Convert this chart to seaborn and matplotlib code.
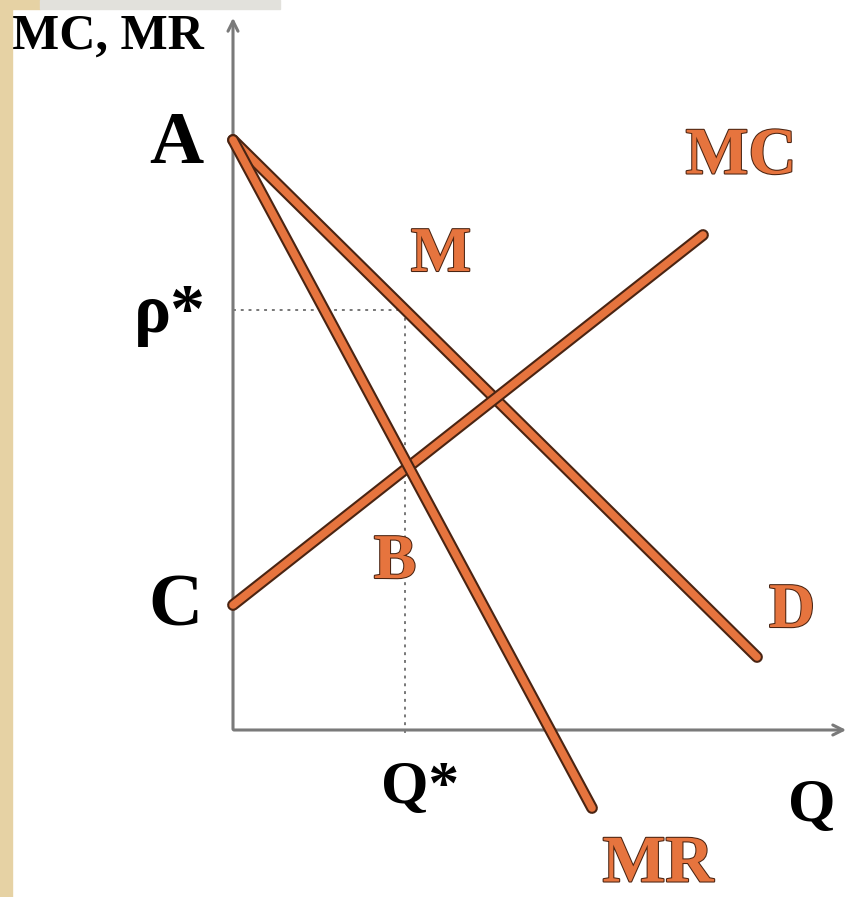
import pandas as pd
import seaborn as sns
import matplotlib.pyplot as plt
import matplotlib.patheffects as pe
from matplotlib.patches import Rectangle

# 曲线端点 (Q, 价格)
curve_names = ["D", "MR", "MC"]
curve_q = [[0.0, 5.24], [0.0, 3.59], [0.0, 4.70]]
curve_p = [[5.90, 0.73], [5.90, -0.78], [1.25, 4.95]]

# 均衡点
q_star = 1.72
p_star = 4.20

ORANGE = "#E6743E"
DARK = "#4a2412"

rows = []
for name, qs, ps in zip(curve_names, curve_q, curve_p):
    for q, p in zip(qs, ps):
        rows.append({"curve": name, "Q": q, "P": p})
df = pd.DataFrame(rows)

sns.set_theme(style="white")
plt.rcParams['font.family'] = ['Liberation Serif', 'DejaVu Serif']

fig = plt.figure(figsize=(8.52, 8.97), dpi=100)
ax = fig.add_axes([0, 0, 1, 1])
ax.set_xlim(-2.33, 6.19)
ax.set_ylim(-1.67, 7.30)
ax.axis("off")

# 背景边条
fig.patches.append(Rectangle((0, 0), 12 / 852, 1, transform=fig.transFigure,
                             color="#E6D2A4", zorder=0))
fig.patches.append(Rectangle((0, 1 - 9 / 897), 40 / 852, 9 / 897, transform=fig.transFigure,
                             color="#E6D2A4", zorder=0))
fig.patches.append(Rectangle((40 / 852, 1 - 9 / 897), 240 / 852, 9 / 897, transform=fig.transFigure,
                             color="#E2E1DC", zorder=0))

# 虚线
ax.plot([0, q_star], [p_star, p_star], ls=(0, (1.5, 2.5)), color="#777777", lw=1.4, zorder=1)
ax.plot([q_star, q_star], [p_star, -0.05], ls=(0, (1.5, 2.5)), color="#777777", lw=1.4, zorder=1)

# 坐标轴
ax.annotate("", xy=(0, 7.15), xytext=(0, -0.02),
            arrowprops=dict(arrowstyle="->", color="#7a7a7a", lw=2.2, mutation_scale=18), zorder=2)
ax.annotate("", xy=(6.16, 0), xytext=(-0.02, 0),
            arrowprops=dict(arrowstyle="->", color="#7a7a7a", lw=2.2, mutation_scale=18), zorder=2)

# 曲线
sns.lineplot(data=df, x="Q", y="P", units="curve", estimator=None, sort=False,
             color=ORANGE, lw=5.5, solid_capstyle="round", ax=ax, zorder=3,
             path_effects=[pe.Stroke(linewidth=8.5, foreground=DARK), pe.Normal()])

# 文字
black_kw = dict(color="black", fontweight="bold", ha="center", va="center")
orange_kw = dict(color=ORANGE, fontweight="bold", ha="center", va="center",
                 path_effects=[pe.withStroke(linewidth=1.5, foreground=DARK)])

ax.text(-1.25, 6.93, "MC, MR", fontsize=36, **black_kw)
ax.text(-0.57, 5.85, "A", fontsize=54, **black_kw)
ax.text(-0.58, 1.22, "C", fontsize=54, **black_kw)
ax.text(-0.63, 4.15, "ρ*", fontsize=50, **black_kw)
ax.text(1.87, -0.58, "Q*", fontsize=44, **black_kw)
ax.text(5.79, -0.76, "Q", fontsize=44, **black_kw)

ax.text(5.08, 5.73, "MC", fontsize=48, **orange_kw)
ax.text(2.08, 4.74, "M", fontsize=46, **orange_kw)
ax.text(1.62, 1.67, "B", fontsize=46, **orange_kw)
ax.text(5.59, 1.18, "D", fontsize=46, **orange_kw)
ax.text(4.25, -1.35, "MR", fontsize=48, **orange_kw)

fig.savefig("out.png", dpi=100)
